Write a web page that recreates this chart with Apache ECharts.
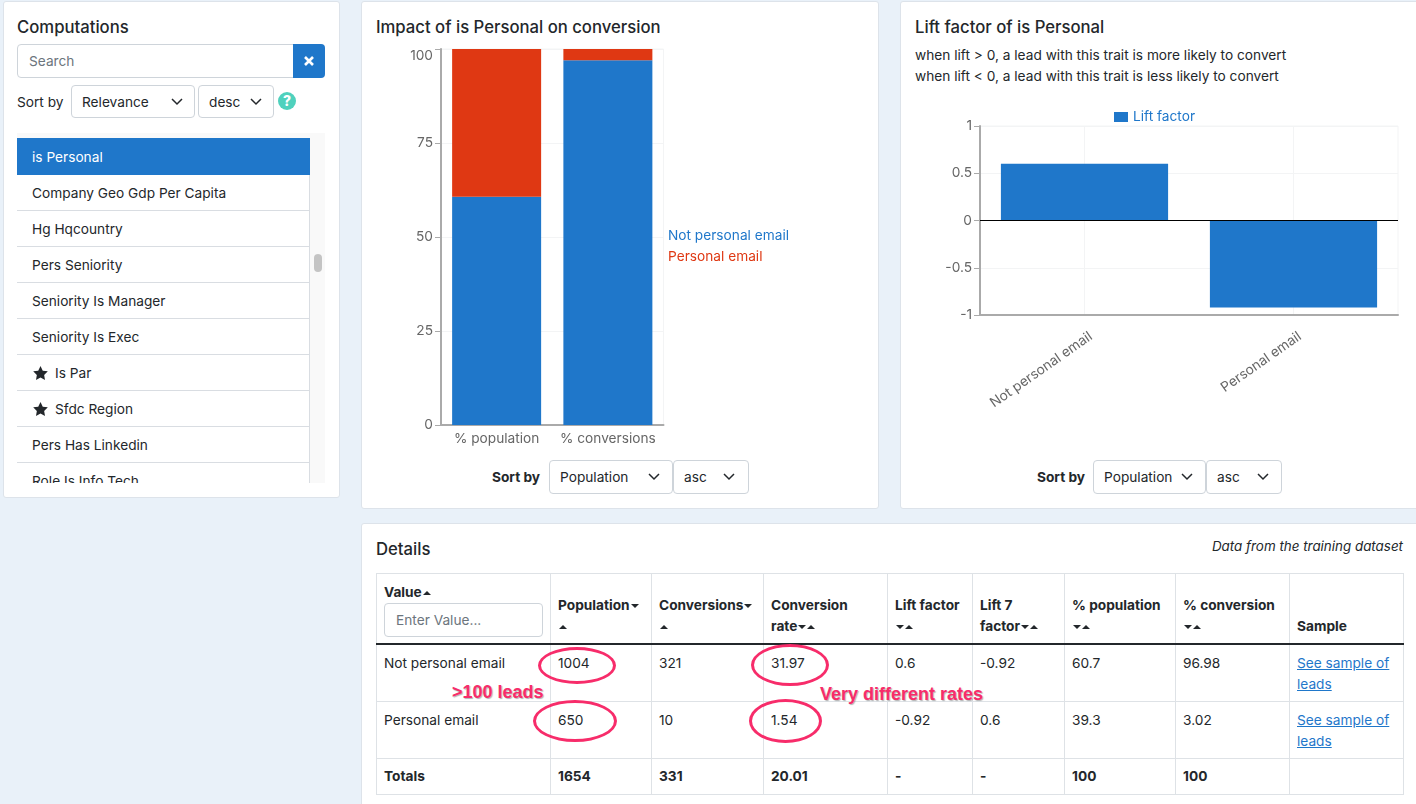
<!DOCTYPE html>
<html>
<head>
<meta charset="utf-8">
<title>Impact of is Personal on conversion</title>
<script src="https://cdn.jsdelivr.net/npm/echarts@6/dist/echarts.min.js"></script>
<style>
  html, body { margin: 0; padding: 0; }
  body { width: 1416px; height: 804px; overflow: hidden; position: relative; background: #e9f1f9;
         font-family: Inter, "Noto Sans", sans-serif; font-size: 13.7px; color: #23272b; }
  .card { position: absolute; background: #fff; border: 1px solid #dde3ea; border-radius: 3px; box-sizing: border-box; }
  .abs { position: absolute; white-space: nowrap; line-height: 20px; }
  .title { font-size: 16.7px; font-weight: 500; line-height: 22px; }
  .box { position: absolute; box-sizing: border-box; background: #fff; border: 1px solid #ced4da; border-radius: 4px;
         display: flex; align-items: center; padding-left: 10px; padding-bottom: 1px; }
  .box svg { position: absolute; top: 50%; margin-top: -4px; }
  #list { position: absolute; left: 17px; top: 133px; width: 308px; height: 350px; overflow: hidden; background: #f9f9f9; }
  #list .item { position: absolute; left: 0; width: 293px; height: 36px; line-height: 36px; padding-left: 15px; box-sizing: border-box;
                background: #fff; border-bottom: 1px solid #d9dde2; border-right: 1px solid #d9dde2; white-space: nowrap; }
  #list .on { background: #1f77ca; color: #fff; border: 0; height: 37px; line-height: 38px; }
  #list svg { position: absolute; left: 16px; top: 11px; }
  #details { position: absolute; left: 376px; top: 573px; width: 1027px; border-collapse: collapse; table-layout: fixed; }
  #details th, #details td { border: 1px solid #dee2e6; padding: 0 7px; text-align: left; line-height: 21px; box-sizing: border-box; }
  #details th { height: 70px; vertical-align: bottom; padding-bottom: 6px; font-weight: 700; border-bottom: 2px solid #23272b; }
  #details td { height: 57px; vertical-align: top; padding-top: 8px; }
  #details tr.total td { height: 36px; font-weight: 700; vertical-align: middle; padding-top: 1px; }
  #details a { color: #1f77ca; text-decoration: underline; }
  .up, .down { display: inline-block; width: 0; height: 0; border-left: 4px solid transparent; border-right: 4px solid transparent; vertical-align: middle; margin-left: 1px; }
  .up { border-bottom: 4px solid #23272b; }
  .down { border-top: 4px solid #23272b; }
  .ring { position: absolute; box-sizing: border-box; border: 3px solid #f72c6a; border-radius: 50%; }
  .note { position: absolute; white-space: nowrap; color: #f72c6a; font: bold 18px "Liberation Sans", sans-serif; line-height: 20px;
          text-shadow: 1px 1px 1px rgba(0,0,0,.3), 0 0 2px #fff; }
</style>
</head>
<body>

<div class="card" style="left:3px;top:1px;width:337px;height:497px"></div>
<div class="card" style="left:361px;top:1px;width:518px;height:508px"></div>
<div class="card" style="left:900px;top:1px;width:530px;height:508px"></div>
<div class="card" style="left:361px;top:523px;width:1069px;height:300px"></div>

<div class="abs title" style="left:17px;top:16px">Computations</div>
<div class="box" style="left:17px;top:44px;width:277px;height:34px;color:#6c757d;border-radius:4px 0 0 4px;padding-left:11px">Search</div>
<div class="abs" style="left:293px;top:44px;width:32px;height:34px;background:#1f77ca;border-radius:0 4px 4px 0">
  <svg width="32" height="34"><path d="M12 13 L20 21 M20 13 L12 21" stroke="#fff" stroke-width="2.6"/></svg>
</div>
<div class="abs" style="left:17px;top:92px">Sort by</div>
<div class="box" style="left:71px;top:85px;width:124px;height:33px;padding-bottom:0">Relevance<svg style="left:99px" width="12" height="8"><path d="M1 1 L6 6 L11 1" fill="none" stroke="#23272b" stroke-width="1.5"/></svg></div>
<div class="box" style="left:198px;top:85px;width:76px;height:33px;padding-bottom:0">desc<svg style="left:51px" width="12" height="8"><path d="M1 1 L6 6 L11 1" fill="none" stroke="#23272b" stroke-width="1.5"/></svg></div>
<div class="abs" style="left:278px;top:92px;width:18px;height:18px;border-radius:50%;background:#4fd1bd;color:#fff;font-weight:800;font-size:14px;line-height:18px;text-align:center">?</div>
<div id="list"></div>
<div class="abs" style="left:314px;top:254px;width:8px;height:18px;background:#c4c4c4;border-radius:4px"></div>

<div class="abs title" style="left:376px;top:16px">Impact of is Personal on conversion</div>
<div id="impact-chart" style="position:absolute;left:362px;top:40px;width:515px;height:415px"></div>
<div class="abs" style="left:492px;top:467px;font-weight:700">Sort by</div>
<div class="box" style="left:549px;top:460px;width:124px;height:34px">Population<svg style="left:98px" width="12" height="8"><path d="M1 1 L6 6 L11 1" fill="none" stroke="#23272b" stroke-width="1.5"/></svg></div>
<div class="box" style="left:673px;top:460px;width:76px;height:34px">asc<svg style="left:49px" width="12" height="8"><path d="M1 1 L6 6 L11 1" fill="none" stroke="#23272b" stroke-width="1.5"/></svg></div>

<div class="abs title" style="left:915px;top:16px">Lift factor of is Personal</div>
<div class="abs" style="left:915px;top:45px">when lift &gt; 0, a lead with this trait is more likely to convert</div>
<div class="abs" style="left:915px;top:66px">when lift &lt; 0, a lead with this trait is less likely to convert</div>
<div id="lift-chart" style="position:absolute;left:901px;top:100px;width:515px;height:330px"></div>
<div class="abs" style="left:1037px;top:467px;font-weight:700">Sort by</div>
<div class="box" style="left:1093px;top:460px;width:113px;height:34px">Population<svg style="left:87px" width="12" height="8"><path d="M1 1 L6 6 L11 1" fill="none" stroke="#23272b" stroke-width="1.5"/></svg></div>
<div class="box" style="left:1206px;top:460px;width:76px;height:34px">asc<svg style="left:50px" width="12" height="8"><path d="M1 1 L6 6 L11 1" fill="none" stroke="#23272b" stroke-width="1.5"/></svg></div>

<div class="abs title" style="left:376px;top:538px">Details</div>
<div class="abs" style="right:13px;top:536px;font-style:italic;font-size:13.4px">Data from the training dataset</div>
<table id="details">
  <colgroup>
    <col style="width:174px"><col style="width:101px"><col style="width:112px"><col style="width:124px"><col style="width:85px">
    <col style="width:92px"><col style="width:111px"><col style="width:114px"><col style="width:114px">
  </colgroup>
  <thead><tr id="details-head"></tr></thead>
  <tbody id="details-body"></tbody>
</table>

<div class="ring" style="left:538px;top:647px;width:78px;height:37px"></div>
<div class="ring" style="left:751px;top:644px;width:78px;height:42px"></div>
<div class="ring" style="left:533px;top:700px;width:84px;height:42px"></div>
<div class="ring" style="left:749px;top:699px;width:73px;height:44px"></div>
<div class="note" style="left:452px;top:682px">&gt;100 leads</div>
<div class="note" style="left:820px;top:684px">Very different rates</div>

<script>
// values
const impactCategories = ['% population', '% conversions'];
const notPersonalShare = [60.7, 96.98];
const personalShare = [39.3, 3.02];

const liftCategories = ['Not personal email', 'Personal email'];
const liftValues = [0.6, -0.92];

const computations = ['is Personal', 'Company Geo Gdp Per Capita', 'Hg Hqcountry', 'Pers Seniority', 'Seniority Is Manager',
  'Seniority Is Exec', 'Is Par', 'Sfdc Region', 'Pers Has Linkedin', 'Role Is Info Tech'];
const starred = ['Is Par', 'Sfdc Region'];

const tableHeaders = ['Value', 'Population', 'Conversions', 'Conversion<br>rate', 'Lift factor', 'Lift 7<br>factor', '% population', '% conversion', 'Sample'];
const tableRows = [
  ['Not personal email', '1004', '321', '31.97', '0.6', '-0.92', '60.7', '96.98'],
  ['Personal email', '650', '10', '1.54', '-0.92', '0.6', '39.3', '3.02']
];
const tableTotals = ['Totals', '1654', '331', '20.01', '-', '-', '100', '100', ''];

const BLUE = '#1f77ca';
const RED = '#df3813';
const AXIS_GREY = '#aaaaaa';
const GRID_GREY = '#f3f4f5';
const FONT = 'Inter';
const TICK_SIZE = 13.7;

// left list
const listEl = document.getElementById('list');
computations.forEach((name, i) => {
  const item = document.createElement('div');
  item.className = 'item' + (i === 0 ? ' on' : '');
  item.style.top = (i === 0 ? 5 : 6 + i * 36) + 'px';
  if (starred.includes(name)) {
    item.innerHTML = '<svg width="15" height="14" viewBox="0 0 24 23"><path fill="#23272b" d="M12 0l3.7 7.6 8.3 1.2-6 5.9 1.4 8.3L12 19l-7.4 4L6 14.700 0 8.800l8.300-1.200z"/></svg>' +
      '<span style="margin-left:23px">' + name + '</span>';
  } else {
    item.textContent = name;
  }
  listEl.appendChild(item);
});

// details table
const carets = (name) => {
  if (name === 'Sample') return '';
  if (name === 'Value') return '<span class="up"></span>';
  return '<span class="down"></span><span class="up"></span>';
};
document.getElementById('details-head').innerHTML = tableHeaders.map((name) => {
  if (name === 'Value') {
    return '<th style="vertical-align:top;padding-top:8px">' + name + carets(name) +
      '<div style="margin-top:0;height:34px;line-height:32px;border:1px solid #ced4da;border-radius:4px;box-sizing:border-box;padding-left:11px;font-weight:400;color:#6c757d">Enter Value...</div></th>';
  }
  return '<th>' + name + carets(name) + '</th>';
}).join('');
document.getElementById('details-body').innerHTML = tableRows.map((row) =>
  '<tr>' + row.map((v) => '<td>' + v + '</td>').join('') + '<td><a>See sample of leads</a></td></tr>'
).join('') + '<tr class="total">' + tableTotals.map((v) => '<td>' + v + '</td>').join('') + '</tr>';

// stacked share chart
const impactChart = echarts.init(document.getElementById('impact-chart'));
const impactOption = {
  animation: false,
  textStyle: { fontFamily: FONT },
  grid: { left: 79, top: 9, width: 222.5, height: 376, show: true, borderColor: GRID_GREY, borderWidth: 1 },
  legend: {
    orient: 'vertical', left: 296, top: 184, icon: 'none', itemWidth: 0, itemHeight: 14, itemGap: 7, selectedMode: false,
    data: [
      { name: 'Not personal email', textStyle: { color: BLUE, fontSize: TICK_SIZE, fontFamily: FONT } },
      { name: 'Personal email', textStyle: { color: RED, fontSize: TICK_SIZE, fontFamily: FONT } }
    ]
  },
  xAxis: {
    type: 'category', data: impactCategories,
    axisLine: { lineStyle: { color: AXIS_GREY, width: 2 } },
    axisTick: { alignWithLabel: true, length: 5, lineStyle: { color: '#666' } },
    axisLabel: { color: '#666', fontSize: TICK_SIZE, margin: 7, interval: 0 }
  },
  yAxis: {
    type: 'value', min: 0, max: 100, interval: 25,
    axisLine: { show: true, lineStyle: { color: AXIS_GREY, width: 2 } },
    axisTick: { show: true, length: 6, lineStyle: { color: AXIS_GREY, width: 1 } },
    axisLabel: { color: '#666', fontSize: TICK_SIZE, margin: 8, verticalAlignMaxLabel: 'top' },
    splitLine: { lineStyle: { color: GRID_GREY } }
  },
  series: [
    { name: 'Not personal email', type: 'bar', stack: 'share', barCategoryGap: '20%', data: notPersonalShare, itemStyle: { color: BLUE } },
    { name: 'Personal email', type: 'bar', stack: 'share', data: personalShare, itemStyle: { color: RED } }
  ]
};
impactChart.setOption(impactOption);

// lift factor chart
const liftChart = echarts.init(document.getElementById('lift-chart'));
const liftOption = {
  animation: false,
  textStyle: { fontFamily: FONT },
  grid: { left: 79, top: 26, width: 418, height: 189, show: true, borderColor: GRID_GREY, borderWidth: 1 },
  legend: {
    left: 208, top: 5, icon: 'rect', itemWidth: 14, itemHeight: 10, itemGap: 0, selectedMode: false,
    data: ['Lift factor'], textStyle: { color: BLUE, fontSize: TICK_SIZE, fontFamily: FONT }
  },
  xAxis: {
    type: 'category', data: liftCategories,
    axisLine: { onZero: false, lineStyle: { color: AXIS_GREY, width: 2 } },
    axisTick: { alignWithLabel: true, length: 6, lineStyle: { color: '#666' } },
    axisLabel: { color: '#666', fontSize: TICK_SIZE, rotate: 35, margin: 11, verticalAlign: 'top', interval: 0, padding: [4, 0, 0, 0] },
    splitLine: { show: true, alignWithLabel: true, lineStyle: { color: GRID_GREY } }
  },
  yAxis: {
    type: 'value', min: -1, max: 1, interval: 0.5,
    axisLine: { show: true, lineStyle: { color: AXIS_GREY, width: 2 } },
    axisTick: { show: true, length: 6, lineStyle: { color: AXIS_GREY, width: 1 } },
    axisLabel: { color: '#666', fontSize: TICK_SIZE, margin: 8 },
    splitLine: { lineStyle: { color: GRID_GREY } }
  },
  series: [{
    name: 'Lift factor', type: 'bar', barCategoryGap: '20%', data: liftValues, itemStyle: { color: BLUE },
    markLine: {
      silent: true, symbol: 'none', label: { show: false },
      lineStyle: { color: '#000', type: 'solid', width: 1 },
      data: [{ yAxis: 0 }]
    }
  }]
};
liftChart.setOption(liftOption);
</script>
</body>
</html>
